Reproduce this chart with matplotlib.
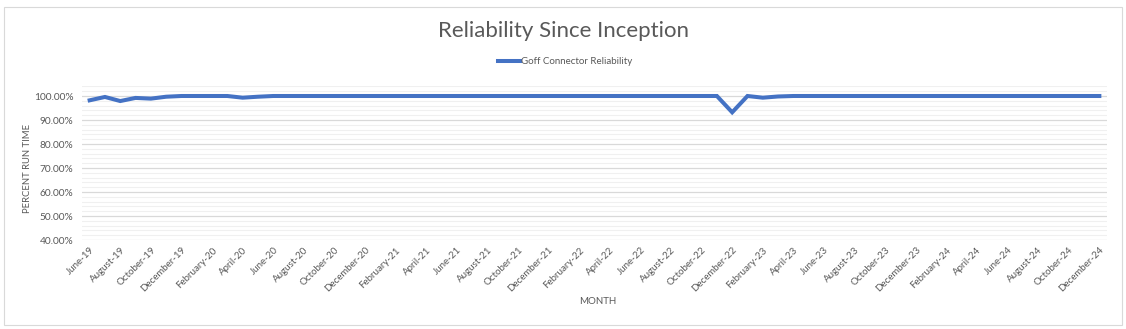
import matplotlib
matplotlib.use("Agg")
import matplotlib.pyplot as plt
from matplotlib.ticker import MultipleLocator, PercentFormatter
from matplotlib.patches import Rectangle

month_names = ["January", "February", "March", "April", "May", "June", "July",
               "August", "September", "October", "November", "December"]
months = []
for i in range(67):
    m = (5 + i) % 12
    y = 19 + (5 + i) // 12
    months.append(f"{month_names[m]}-{y}")

reliability = [
    0.982, 0.996, 0.979, 0.992, 0.989, 0.997, 1.0, 1.0, 1.0, 1.0,   # Jun-19 .. Mar-20
    0.993, 0.997, 1.0, 1.0, 1.0, 1.0, 1.0, 1.0, 1.0, 1.0,           # Apr-20 .. Jan-21
    1.0, 1.0, 1.0, 1.0, 1.0, 1.0, 1.0, 1.0, 1.0, 1.0,               # Feb-21 .. Nov-21
    1.0, 1.0, 1.0, 1.0, 1.0, 1.0, 1.0, 1.0, 1.0, 1.0,               # Dec-21 .. Sep-22
    1.0, 1.0, 0.932, 1.0, 0.993, 0.998, 1.0, 1.0, 1.0, 1.0,         # Oct-22 .. Jul-23
    1.0, 1.0, 1.0, 1.0, 1.0, 1.0, 1.0, 1.0, 1.0, 1.0,               # Aug-23 .. May-24
    1.0, 1.0, 1.0, 1.0, 1.0, 1.0, 1.0,                              # Jun-24 .. Dec-24
]
series_name = "Goff Connector Reliability"
title = "Reliability Since Inception"

plt.rcParams['font.family'] = ['Lato', 'DejaVu Sans']
W, H = 1126, 329
fig = plt.figure(figsize=(W / 100, H / 100), dpi=100)
fig.patches.append(Rectangle((4 / W, 4 / H), (1122 - 4) / W, (322 - 4) / H,
                             transform=fig.transFigure, fill=False,
                             edgecolor="#d9d9d9", linewidth=0.8))

left, right = 82, 1107
top, bottom = 86.4, 240
ax = fig.add_axes([left / W, 1 - bottom / H, (right - left) / W, (bottom - top) / H])

x = list(range(len(months)))
ax.plot(x, reliability, color="#4472C4", linewidth=2.9, solid_joinstyle="miter",
        label=series_name, zorder=3)

ax.set_xlim(-0.5, len(months) - 0.5)
ax.set_ylim(0.40, 1.04)
ax.set_yticks([0.4, 0.5, 0.6, 0.7, 0.8, 0.9, 1.0])
ax.yaxis.set_major_formatter(PercentFormatter(1.0, decimals=2))
ax.yaxis.set_minor_locator(MultipleLocator(0.02))
ax.grid(which="major", axis="y", color="#d9d9d9", linewidth=0.9)
ax.grid(which="minor", axis="y", color="#f0f0f0", linewidth=0.8)
ax.set_axisbelow(True)
for s in ax.spines.values():
    s.set_visible(False)

ax.set_xticks(x[::2])
ax.set_xticklabels(months[::2], rotation=45, ha="right", rotation_mode="anchor",
                   fontsize=7, color="#595959")
ax.tick_params(axis="x", length=0, pad=4)
ax.tick_params(axis="y", which="both", length=0, labelsize=7.3, labelcolor="#595959", pad=6)

ax.set_ylabel("PERCENT RUN TIME", fontsize=6.8, color="#595959")
ax.yaxis.set_label_coords(32 / W, 1 - 168 / H, transform=fig.transFigure)
fig.text(598 / W, 1 - 302 / H, "MONTH", fontsize=7, color="#595959", ha="center", va="center")
fig.text(563 / W, 1 - 31 / H, title, fontsize=16, color="#595959", ha="center", va="center")

leg = fig.legend(loc="center", bbox_to_anchor=(565 / W, 1 - 62 / H), frameon=False,
                 fontsize=7, handlelength=2.3, handletextpad=0.1)
for t in leg.get_texts():
    t.set_color("#595959")

fig.savefig("out.png", dpi=100)
